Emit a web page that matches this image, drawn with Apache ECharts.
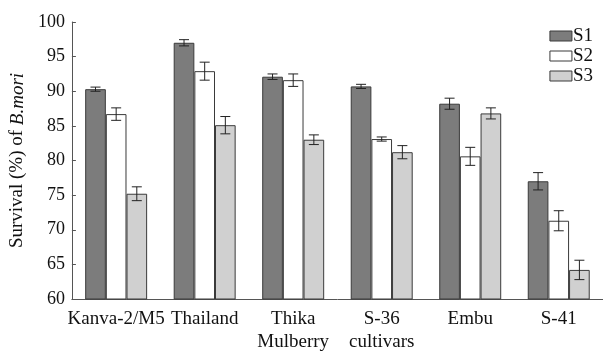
<!DOCTYPE html>
<html><head><meta charset="utf-8">
<script src="https://cdn.jsdelivr.net/npm/echarts@6/dist/echarts.min.js"></script>
<style>html,body{margin:0;padding:0;background:#fff}#c{width:603px;height:354px}</style>
</head><body><div id="c"></div>
<script>
const categories = ['Kanva-2/M5', 'Thailand', 'Thika\nMulberry', 'S-36\ncultivars', 'Embu', 'S-41'];
const seriesNames = ['S1', 'S2', 'S3'];
const s1 = [90.3, 97.0, 92.1, 90.7, 88.2, 77.0];
const s2 = [86.7, 92.9, 91.6, 83.1, 80.6, 71.3];
const s3 = [75.2, 85.1, 83.0, 81.2, 86.8, 64.2];
const e1 = [0.3, 0.45, 0.4, 0.3, 0.8, 1.25];
const e2 = [0.9, 1.3, 0.9, 0.3, 1.3, 1.45];
const e3 = [1.0, 1.25, 0.7, 0.95, 0.8, 1.4];
const yTicks = [60, 65, 70, 75, 80, 85, 90, 95, 100];

const colors = ['#7c7c7c', '#ffffff', '#d0d0d0'];
const vals = [s1, s2, s3];
const errs = [e1, e2, e3];
const CAT_GAP = 0.3;
const FONT = '"Liberation Serif", serif';

const errData = [];
vals.forEach((arr, si) => arr.forEach((v, ci) => {
  errData.push([ci, v - errs[si][ci], v + errs[si][ci], si]);
}));

const chart = echarts.init(document.getElementById('c'), null, {renderer: 'canvas'});
chart.setOption({
  animation: false,
  backgroundColor: '#fff',
  grid: {left: 71, right: 0, top: 22, bottom: 50, containLabel: false},
  legend: {
    orient: 'vertical', right: 10, top: 26, padding: 0,
    icon: 'rect',
    itemWidth: 22, itemHeight: 10, itemGap: 0,
    data: seriesNames,
    itemStyle: {borderColor: '#3a3a3a', borderWidth: 1},
    textStyle: {fontFamily: FONT, fontSize: 19, lineHeight: 20, color: '#111', padding: [0, 0, 0, -4]}
  },
  xAxis: {
    type: 'category', data: categories,
    axisLine: {lineStyle: {color: '#555', width: 1}},
    axisTick: {inside: true, length: 5, lineStyle: {color: '#555'}},
    axisLabel: {fontFamily: FONT, fontSize: 19, color: '#111', margin: 9, lineHeight: 23, interval: 0}
  },
  yAxis: {
    type: 'value', min: 60, max: 100, interval: 5,
    name: '{a|Survival (%) of }{b|B.mori}',
    nameLocation: 'middle', nameGap: 43,
    nameTextStyle: {
      rich: {
        a: {fontFamily: FONT, fontSize: 19, color: '#111'},
        b: {fontFamily: FONT, fontSize: 19, color: '#111', fontStyle: 'italic'}
      }
    },
    axisLine: {show: true, lineStyle: {color: '#555', width: 1}},
    axisTick: {show: true, inside: true, length: 4, lineStyle: {color: '#555'}},
    splitLine: {show: false},
    axisLabel: {fontFamily: FONT, fontSize: 18, color: '#111', margin: 7,
      formatter: v => yTicks.includes(v) ? String(v) : ''}
  },
  series: [
    ...seriesNames.map((n, i) => ({
      name: n, type: 'bar', data: vals[i],
      barGap: '0%', barCategoryGap: (CAT_GAP * 100) + '%',
      itemStyle: {color: colors[i], borderColor: '#3a3a3a', borderWidth: 1}
    })),
    {
      type: 'custom', name: 'err', data: errData, z: 10,
      encode: {x: 0, y: [1, 2]},
      renderItem: function (params, api) {
        const ci = api.value(0), lo = api.value(1), hi = api.value(2), si = api.value(3);
        const band = api.size([1, 0])[0];
        const bw = band * (1 - CAT_GAP) / 3;
        const c = api.coord([ci, lo]);
        const cx = c[0] + (si - 1) * bw;
        const yLo = c[1];
        const yHi = api.coord([ci, hi])[1];
        const hw = 5;
        const st = {stroke: '#222', lineWidth: 1, fill: null};
        return {type: 'group', children: [
          {type: 'line', shape: {x1: cx, y1: yLo, x2: cx, y2: yHi}, style: st},
          {type: 'line', shape: {x1: cx - hw, y1: yLo, x2: cx + hw, y2: yLo}, style: st},
          {type: 'line', shape: {x1: cx - hw, y1: yHi, x2: cx + hw, y2: yHi}, style: st}
        ]};
      }
    }
  ]
});
</script></body></html>
